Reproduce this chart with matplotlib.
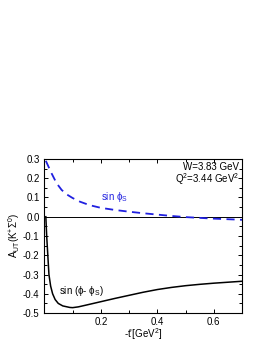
import matplotlib
matplotlib.use('Agg')
import matplotlib.pyplot as plt
from matplotlib.ticker import MultipleLocator, FixedLocator, FormatStrFormatter

plt.rcParams['font.family'] = ['Liberation Sans', 'DejaVu Sans']
plt.rcParams['mathtext.fontset'] = 'custom'
plt.rcParams['mathtext.rm'] = 'Liberation Sans'
plt.rcParams['mathtext.it'] = 'Liberation Sans'

# sin(phi - phi_S) curve
t_black = [0.005, 0.008, 0.012, 0.016, 0.022, 0.029, 0.038, 0.049, 0.065, 0.09,
           0.1, 0.12, 0.15, 0.2, 0.25, 0.3, 0.35, 0.4, 0.45, 0.5, 0.55, 0.6, 0.65, 0.7]
a_black = [0.0, -0.1, -0.2, -0.3, -0.36, -0.4, -0.43, -0.45, -0.463, -0.471,
           -0.472, -0.468, -0.458, -0.441, -0.424, -0.408, -0.392, -0.378, -0.367,
           -0.358, -0.351, -0.345, -0.34, -0.335]

# sin(phi_S) curve
t_blue = [0.005, 0.025, 0.043, 0.061, 0.08, 0.1, 0.126, 0.16, 0.2, 0.25, 0.3,
          0.35, 0.4, 0.45, 0.5, 0.55, 0.6, 0.65, 0.7]
a_blue = [0.29, 0.226, 0.174, 0.139, 0.115, 0.097, 0.078, 0.06, 0.046, 0.035,
          0.026, 0.018, 0.011, 0.004, -0.002, -0.006, -0.01, -0.013, -0.016]

x_ticks = [0.2, 0.4, 0.6]

fig = plt.figure(figsize=(2.66, 3.44), dpi=100)
ax = fig.add_axes([0.167, 0.090, 0.743, 0.448])

ax.axhline(0, color='black', lw=0.7)
ax.plot(t_black, a_black, color='black', lw=1.1)
ax.plot(t_blue, a_blue, color='#2020e0', lw=1.3, dashes=(4.5, 3))

ax.set_xlim(0, 0.7)
ax.set_ylim(-0.5, 0.3)
ax.xaxis.set_major_locator(FixedLocator(x_ticks))
ax.xaxis.set_minor_locator(MultipleLocator(0.1))
ax.yaxis.set_major_locator(MultipleLocator(0.1))
ax.yaxis.set_minor_locator(MultipleLocator(0.05))
ax.yaxis.set_major_formatter(FormatStrFormatter('%.1f'))
ax.xaxis.set_major_formatter(FormatStrFormatter('%.1f'))
ax.tick_params(which='both', direction='in', top=True, right=True, labelsize=7, width=0.7)
ax.tick_params(which='major', length=3)
ax.tick_params(which='minor', length=2)
ax.tick_params(axis='x', pad=2.5)
for s in ax.spines.values():
    s.set_linewidth(0.8)

ax.set_xlabel("-t'[GeV$^2$]", fontsize=7, labelpad=0)
ax.set_ylabel(r'A$_{UT}$(K$^{+}\Sigma^{0}$)', fontsize=7, labelpad=1)

ax.text(0.985, 0.95, 'W=3.83 GeV', transform=ax.transAxes, ha='right', va='center', fontsize=7)
ax.text(0.985, 0.87, 'Q$^2$=3.44 GeV$^2$', transform=ax.transAxes, ha='right', va='center', fontsize=7)
ax.text(0.2, 0.1, r'sin $\phi_S$', color='#2020e0', fontsize=7, va='center')
ax.text(0.05, -0.385, r'sin ($\phi$- $\phi_S$)', color='black', fontsize=7, va='center')

fig.savefig('out.png', dpi=100)
